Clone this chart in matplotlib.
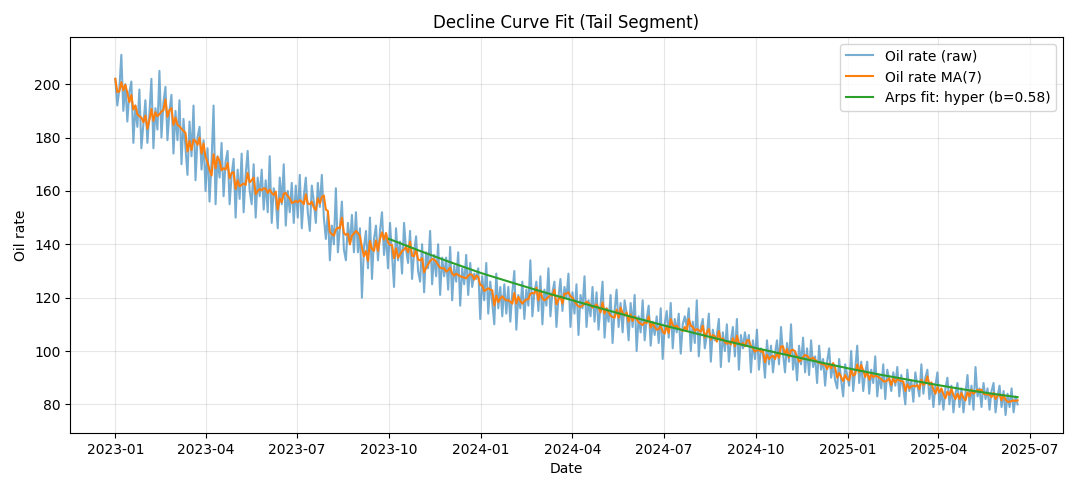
import numpy as np
import pandas as pd
import matplotlib
matplotlib.use("Agg")
import matplotlib.pyplot as plt
import matplotlib.dates as mdates

# raw oil rate, every 2 days from 2023-01-01
raw_start = "2023-01-01"
raw_step_days = 2
oil_raw = [
    202, 192, 198, 211, 190, 200, 186, 197, 201, 178, 192, 184, 198, 176, 185,
    194, 178, 189, 202, 176, 191, 183, 205, 180, 193, 199, 179, 190, 196, 174,
    190, 179, 194, 170, 187, 176, 166, 186, 173, 192, 164, 180, 184, 168, 179,
    160, 176, 156, 171, 192, 155, 173, 165, 178, 158, 171, 175, 155, 166, 172,
    150, 168, 157, 174, 152, 166, 175, 160, 155, 170, 150, 165, 158, 168, 153,
    164, 152, 173, 148, 161, 157, 146, 165, 155, 170, 147, 160, 152, 163, 148,
    162, 150, 166, 146, 158, 165, 152, 145, 162, 156, 148, 163, 154, 166, 150,
    142, 152, 134, 147, 140, 161, 137, 146, 156, 138, 134, 148, 140, 151, 137,
    152, 137, 146, 120, 139, 145, 131, 150, 127, 142, 147, 134, 145, 152, 136,
    144, 131, 148, 136, 124, 146, 134, 141, 129, 148, 138, 133, 145, 127, 137,
    143, 130, 126, 140, 122, 137, 131, 145, 125, 136, 128, 140, 121, 135, 128,
    135, 123, 139, 119, 132, 126, 137, 117, 131, 125, 136, 121, 133, 124, 129,
    127, 131, 112, 128, 119, 133, 114, 126, 118, 110, 129, 116, 124, 113, 125,
    114, 124, 111, 122, 130, 108, 121, 116, 126, 112, 123, 117, 134, 113, 122,
    126, 115, 128, 110, 123, 117, 131, 113, 122, 126, 109, 120, 127, 115, 124,
    120, 129, 109, 122, 114, 125, 106, 121, 116, 128, 109, 119, 113, 124, 111,
    122, 108, 117, 126, 105, 116, 111, 121, 103, 115, 123, 109, 118, 107, 119,
    114, 104, 118, 109, 121, 100, 113, 107, 119, 104, 112, 117, 102, 111, 106,
    113, 103, 116, 97, 110, 115, 105, 118, 101, 112, 107, 114, 99, 110, 113,
    109, 116, 100, 111, 103, 119, 98, 109, 112, 101, 106, 114, 96, 108, 104,
    106, 112, 94, 107, 100, 110, 96, 104, 109, 98, 112, 93, 106, 101, 107,
    102, 106, 92, 104, 97, 108, 93, 101, 99, 90, 104, 95, 102, 92, 99,
    104, 95, 109, 99, 92, 103, 96, 110, 93, 100, 89, 102, 95, 105, 92,
    101, 91, 104, 94, 98, 88, 102, 93, 97, 87, 96, 101, 90, 95, 89,
    86, 97, 89, 83, 95, 91, 87, 100, 85, 93, 102, 88, 96, 85, 92,
    96, 84, 93, 88, 98, 83, 91, 86, 95, 82, 93, 89, 85, 92, 87,
    94, 83, 91, 86, 80, 93, 85, 89, 81, 92, 87, 83, 95, 84, 90,
    93, 82, 88, 79, 87, 92, 80, 85, 78, 86, 90, 80, 87, 77, 84,
    88, 79, 86, 77, 84, 91, 80, 87, 78, 94, 83, 86, 79, 88, 82,
    86, 78, 85, 88, 77, 83, 87, 79, 85, 76, 84, 79, 86, 77, 83,
    80,
]

# Arps hyperbolic fit on the tail segment
fit_dates = ["2023-10-01", "2023-11-01", "2023-12-01", "2024-01-01", "2024-02-01",
             "2024-03-01", "2024-04-01", "2024-05-01", "2024-06-01", "2024-07-01",
             "2024-08-01", "2024-09-01", "2024-10-01", "2024-11-01", "2024-12-01",
             "2025-01-01", "2025-02-01", "2025-03-01", "2025-04-01", "2025-05-01",
             "2025-06-01", "2025-06-19"]
fit_rate = [142.0, 137.5, 133.3, 129.2, 125.6, 122.3, 119.0, 115.8, 112.6, 109.6,
            106.7, 103.8, 101.1, 98.5, 96.0, 93.5, 91.2, 89.3, 87.2, 85.3,
            83.6, 82.7]
fit_b = 0.58

dates = pd.date_range(raw_start, periods=len(oil_raw), freq=f"{raw_step_days}D")
s = pd.Series(oil_raw, index=dates, dtype=float)
ma7 = s.rolling("7D").mean()

fig, ax = plt.subplots(figsize=(10.8, 4.91), dpi=100)
ax.plot(s.index, s.values, color="tab:blue", alpha=0.6, lw=1.5, label="Oil rate (raw)")
ax.plot(ma7.index, ma7.values, color="tab:orange", lw=1.5, label="Oil rate MA(7)")
ax.plot(pd.to_datetime(fit_dates), fit_rate, color="tab:green", lw=1.5,
        label=f"Arps fit: hyper (b={fit_b:.2f})")

ax.xaxis.set_major_locator(mdates.MonthLocator(bymonth=[1, 4, 7, 10]))
ax.xaxis.set_major_formatter(mdates.DateFormatter("%Y-%m"))
ax.grid(True, alpha=0.3)
ax.set_title("Decline Curve Fit (Tail Segment)")
ax.set_xlabel("Date")
ax.set_ylabel("Oil rate")
ax.legend(loc="upper right")

plt.subplots_adjust(left=0.065, right=0.984, top=0.925, bottom=0.118)
plt.savefig("out.png", dpi=100)
